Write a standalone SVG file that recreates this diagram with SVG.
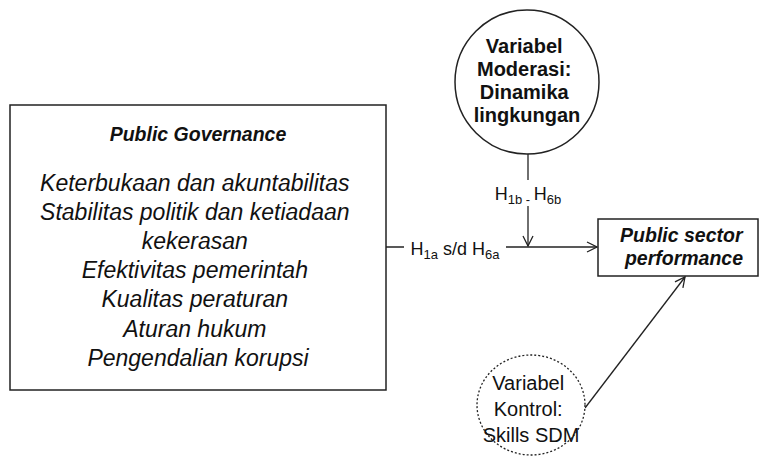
<svg xmlns="http://www.w3.org/2000/svg" width="760" height="461" viewBox="0 0 760 461">
<defs>
<style>
text{font-family:"Liberation Sans",Arial,sans-serif;fill:#111;}
.box{fill:#fff;stroke:#222;stroke-width:1.5;}
.line{fill:none;stroke:#222;stroke-width:1.3;}
.bi{font-weight:bold;font-style:italic;}
.it{font-style:italic;font-size:23px;}
.b20{font-weight:bold;font-size:20px;}
.r20{font-size:20px;}
.lab{font-size:18px;}
.sub{font-size:13px;}
</style>
<marker id="arr" viewBox="0 0 12 12" refX="11" refY="6" markerWidth="12" markerHeight="12" markerUnits="userSpaceOnUse" orient="auto">
<path d="M1,1 L11,6 L1,11" fill="none" stroke="#222" stroke-width="1.3"/>
</marker>
</defs>
<rect width="760" height="461" fill="#fff"/>
<g id="connectors">
<line class="line" x1="386" y1="247" x2="597" y2="247" marker-end="url(#arr)"/>
<line class="line" x1="528" y1="154" x2="528" y2="246" marker-end="url(#arr)"/>
<line class="line" x1="585" y1="408" x2="685" y2="277" marker-end="url(#arr)"/>
<rect x="404" y="234" width="102" height="27" fill="#fff"/>
<text class="lab" x="455" y="255" text-anchor="middle">H<tspan class="sub" dy="4">1a</tspan><tspan dy="-4"> s/d H</tspan><tspan class="sub" dy="4">6a</tspan></text>
<rect x="488" y="180" width="80" height="26" fill="#fff"/>
<text class="lab" x="528" y="200" text-anchor="middle">H<tspan class="sub" dy="4">1b - </tspan><tspan dy="-4">H</tspan><tspan class="sub" dy="4">6b</tspan></text>
</g>
<g id="public-governance">
<rect class="box" x="10" y="105" width="376" height="285"/>
<text class="bi" x="198" y="141" font-size="19.5" text-anchor="middle">Public Governance</text>
<text class="it" text-anchor="middle">
<tspan x="198" y="191">Keterbukaan dan akuntabilitas</tspan>
<tspan x="198" y="220">Stabilitas politik dan ketiadaan</tspan>
<tspan x="198" y="249">kekerasan</tspan>
<tspan x="198" y="278">Efektivitas pemerintah</tspan>
<tspan x="198" y="307">Kualitas peraturan</tspan>
<tspan x="198" y="337">Aturan hukum</tspan>
<tspan x="198" y="366">Pengendalian korupsi</tspan>
</text>
</g>
<g id="moderasi">
<circle cx="527" cy="82" r="72" fill="#fff" stroke="#222" stroke-width="1.5"/>
<text class="b20" text-anchor="middle">
<tspan x="527" y="53">Variabel</tspan>
<tspan x="527" y="76">Moderasi:</tspan>
<tspan x="527" y="99">Dinamika</tspan>
<tspan x="527" y="122">lingkungan</tspan>
</text>
</g>
<g id="performance">
<rect class="box" x="598" y="219" width="160" height="57"/>
<text class="bi" font-size="19.5" text-anchor="middle">
<tspan x="684" y="242">Public sector</tspan>
<tspan x="684" y="265">performance</tspan>
</text>
</g>
<g id="kontrol">
<ellipse cx="531" cy="405" rx="54" ry="50" fill="#fff" stroke="#222" stroke-width="1.3" stroke-dasharray="2,2"/>
<text class="r20" text-anchor="middle">
<tspan x="531" y="390">Variabel</tspan>
<tspan x="531" y="416">Kontrol:</tspan>
<tspan x="531" y="442">Skills SDM</tspan>
</text>
</g>
</svg>
